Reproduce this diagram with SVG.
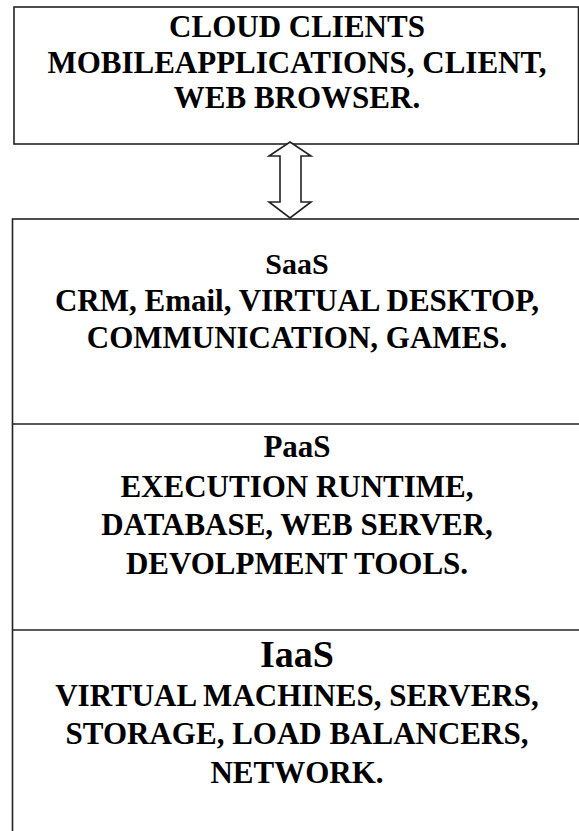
<svg xmlns="http://www.w3.org/2000/svg" width="579" height="831" viewBox="0 0 579 831">
<defs>
<style>
.box{fill:#fff;stroke:#222;stroke-width:1.6}
.ln{stroke:#222;stroke-width:1.6;fill:none}
</style>
</defs>
<rect width="579" height="831" fill="#fff"/>
<g id="cloud-clients">
<rect class="box" x="14" y="7" width="564.5" height="137"/>
<text x="297" y="37" font-family="Liberation Serif" font-weight="bold" font-size="31" text-anchor="middle">CLOUD CLIENTS</text>
<text x="297" y="73" font-family="Liberation Serif" font-weight="bold" font-size="31" text-anchor="middle">MOBILEAPPLICATIONS, CLIENT,</text>
<text x="297" y="108" font-family="Liberation Serif" font-weight="bold" font-size="31" text-anchor="middle">WEB BROWSER.</text>
</g>
<g id="stack">
<rect class="box" x="12.5" y="219" width="600" height="640"/>
</g>
<g id="saas">
<text x="297" y="274" font-family="Liberation Serif" font-weight="bold" font-size="30" text-anchor="middle">SaaS</text>
<text x="297" y="311" font-family="Liberation Serif" font-weight="bold" font-size="31" text-anchor="middle">CRM, Email, VIRTUAL DESKTOP,</text>
<text x="297" y="348" font-family="Liberation Serif" font-weight="bold" font-size="31" text-anchor="middle">COMMUNICATION, GAMES.</text>
</g>
<g id="paas">
<line class="ln" x1="12.5" y1="424" x2="579" y2="424"/>
<text x="297" y="457" font-family="Liberation Serif" font-weight="bold" font-size="31" text-anchor="middle">PaaS</text>
<text x="297" y="497" font-family="Liberation Serif" font-weight="bold" font-size="31" text-anchor="middle">EXECUTION RUNTIME,</text>
<text x="297" y="535" font-family="Liberation Serif" font-weight="bold" font-size="31" text-anchor="middle">DATABASE, WEB SERVER,</text>
<text x="297" y="574" font-family="Liberation Serif" font-weight="bold" font-size="31" text-anchor="middle">DEVOLPMENT TOOLS.</text>
</g>
<g id="iaas">
<line class="ln" x1="12.5" y1="630" x2="579" y2="630"/>
<text x="297" y="667" font-family="Liberation Serif" font-weight="bold" font-size="38" text-anchor="middle">IaaS</text>
<text x="297" y="706" font-family="Liberation Serif" font-weight="bold" font-size="31" text-anchor="middle">VIRTUAL MACHINES, SERVERS,</text>
<text x="297" y="744" font-family="Liberation Serif" font-weight="bold" font-size="31" text-anchor="middle">STORAGE, LOAD BALANCERS,</text>
<text x="297" y="783" font-family="Liberation Serif" font-weight="bold" font-size="31" text-anchor="middle">NETWORK.</text>
</g>
<g id="connectors">
<polygon class="box" points="290,142 311,156 301,156 301,202 311,202 290,218 269,202 280,202 280,156 269,156"/>
</g>
</svg>
